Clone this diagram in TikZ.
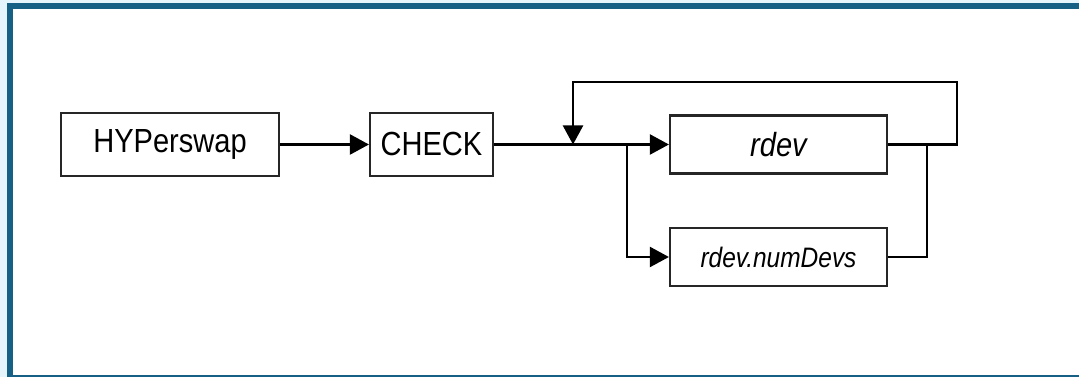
\documentclass[tikz,border=0pt]{standalone}
\usepackage{fontspec}
\setmainfont{Liberation Sans}[FakeStretch=0.87]
\usetikzlibrary{arrows.meta,positioning}
\definecolor{frameblue}{RGB}{22,96,133}
\definecolor{paleblue}{RGB}{230,244,252}
\tikzset{
    box/.style ={
        shape=rectangle,
        draw=black!85,
        line width=0.6pt,
        fill=white,
        inner sep=1pt,
        minimum width=2.18cm,
        minimum height=0.63cm,
        font=\fontsize{9.5}{11}\selectfont
    },
    varbox/.style ={
        box,
        minimum width=2.17cm,
        minimum height=0.58cm,
        font=\fontsize{9.5}{11}\selectfont\itshape
    },
    flow/.style ={
        line width=0.6pt,
        -{Triangle[length=5.4pt,width=5.7pt]}
    }
}

\begin{document}
\begin{tikzpicture}[x=0.01cm,y=-0.01cm]
        % frame
        \fill[paleblue] (0,0) rectangle (1079,377);
        \fill[frameblue] (7,3) rectangle (1079,377);
        \fill[white] (13,9) rectangle (1079,375);
        \node[box] (hyp) at (170,144.5) {HYPerswap};
        \node[box,minimum width=1.23cm] (check) at (431.5,144.5) {CHECK};
        \node[varbox] (rdev) at (778.5,144.5) {rdev};
        \node[varbox,font=\fontsize{8}{10}\selectfont\itshape] (numdevs) at (778.5,257) {rdev.numDevs};
        \coordinate (join) at (573,144.5);
        \coordinate (split) at (627,144.5);
        \coordinate (merge) at (927,144.5);
        \coordinate (loop) at (957,82);
        \draw[flow] (hyp) -- (check);
        \draw[flow] (check) -- (rdev);
        \draw[flow] (rdev.east) -| (loop) -| (join);
        \draw[flow] (split) |- (numdevs);
        \draw[line width=0.6pt] (numdevs.east) -| (merge);
    \end{tikzpicture}
\end{document}
